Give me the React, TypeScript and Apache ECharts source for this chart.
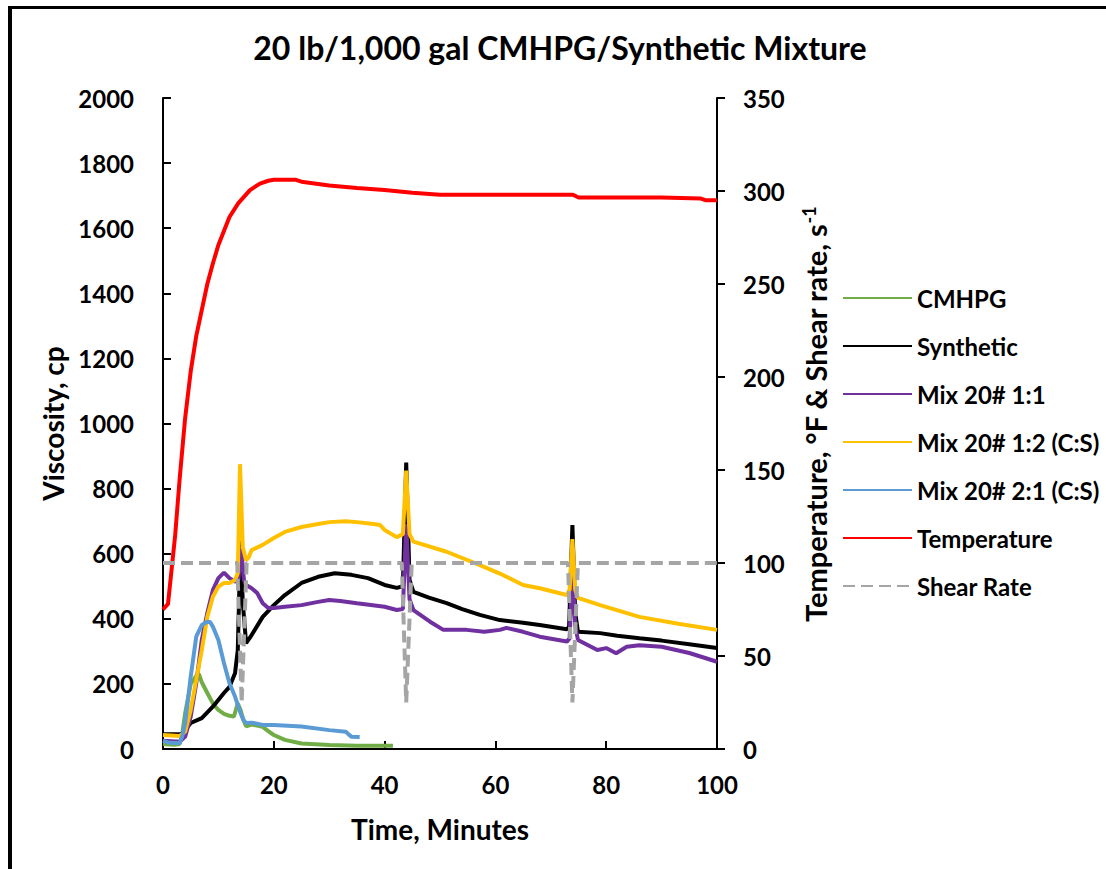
import React, { useEffect, useRef } from "react";
import * as echarts from "echarts";

// ---- data (time in minutes, value) ----
const cmhpg: number[][] = [
  [0, 15], [2, 13], [3, 15], [3.5, 50], [4, 110], [5, 200], [6, 225], [6.5, 230], [7, 205], [8, 172],
  [9, 140], [10, 120], [11, 108], [12, 102], [12.8, 100], [13.5, 140], [14, 120], [14.5, 90], [15, 70],
  [16, 75], [17, 72], [18, 68], [19, 55], [20, 43], [22, 28], [25, 17], [30, 12], [35, 10], [41.5, 10],
];
const synthetic: number[][] = [
  [0, 45], [3.4, 45], [5, 80], [7, 95], [9, 130], [11, 172], [12, 191], [13, 233], [13.5, 304], [14, 640],
  [14.4, 450], [15, 325], [16, 350], [18, 406], [20, 442], [22, 473], [25, 510], [28, 529], [31, 540],
  [34, 535], [37, 525], [40, 504], [42.2, 495], [43.3, 500], [43.9, 880], [44.5, 520], [45.2, 483],
  [48, 465], [51.2, 448], [54, 430], [57.2, 412], [60.8, 396], [65, 388], [68, 381], [72.9, 368],
  [73.3, 375], [73.9, 688], [74.4, 420], [74.9, 360], [78.9, 356], [82, 348], [86, 340], [90, 333],
  [95, 322], [100, 310],
];
const mix11: number[][] = [
  [0, 25], [3, 22], [4, 38], [5, 99], [6, 202], [7, 335], [8, 418], [9, 488], [10, 525], [11, 542],
  [12, 525], [13, 514], [13.6, 520], [14.1, 620], [14.6, 520], [15, 504], [16, 494], [17, 479], [18, 448],
  [19, 433], [20, 433], [22, 437], [25, 442], [28, 452], [30, 458], [32, 455], [35, 448], [40, 437],
  [42.2, 427], [43.3, 430], [43.9, 690], [44.5, 460], [45.2, 427], [48.2, 391], [50.6, 366], [54.8, 366],
  [58, 360], [60.8, 366], [62, 372], [65, 360], [68, 345], [72.9, 330], [73.4, 340], [73.9, 560],
  [74.4, 380], [74.9, 335], [78.4, 304], [80, 310], [81.8, 294], [83.7, 314], [86, 319], [90, 314],
  [95, 295], [100, 268],
];
const mix12: number[][] = [
  [0, 43], [3, 40], [4, 53], [5, 120], [6, 212], [7, 304], [8, 406], [9, 468], [10, 499], [11, 510],
  [12, 510], [13, 519], [13.5, 540], [13.9, 875], [14.4, 620], [15, 580], [15.5, 590], [16, 611],
  [18, 627], [20, 648], [22, 667], [25, 682], [28, 691], [30, 697], [33, 700], [35, 697], [38, 691],
  [39.2, 688], [40, 673], [42.2, 651], [43.3, 660], [43.9, 855], [44.5, 660], [45.2, 637], [51.2, 606],
  [57.2, 565], [60.8, 539], [65, 504], [68, 494], [72.9, 473], [73.4, 490], [73.9, 645], [74.4, 490],
  [74.9, 464], [78.9, 442], [86, 406], [93, 385], [100, 366],
];
const mix21: number[][] = [
  [0, 25], [1, 20], [3, 18], [3.5, 40], [4, 80], [4.5, 150], [5, 222], [6, 345], [7, 381], [8, 391],
  [8.5, 390], [9, 376], [10, 335], [11, 264], [12, 202], [13, 161], [14, 110], [14.5, 90], [15, 80],
  [16, 81], [18, 74], [20, 74], [25, 69], [30, 58], [33, 53], [33.5, 45], [34, 38], [35.5, 37],
];
const temperature: number[][] = [
  [0, 75], [0.9, 78], [1.5, 95], [2.2, 115], [3, 145], [4, 178], [5, 203], [6, 222], [7, 236],
  [8, 250], [9, 261], [10, 271], [12, 286], [13.6, 293.5], [15.7, 300.5], [17.5, 304], [19, 305.5],
  [20, 306], [24, 306], [25, 305], [30, 303], [35, 301.6], [40, 300.5], [45, 299], [50, 298], [74, 298],
  [75, 296.5], [90, 296.5], [97, 296], [98, 295], [100, 295],
];
const shearRate: number[][] = [
  [0, 100], [13.4, 100], [14.2, 25], [15.1, 100], [43.1, 100], [43.9, 25], [44.9, 100],
  [73.1, 100], [73.9, 25], [74.9, 100], [100, 100],
];

const FONT = "Lato";

export default function App() {
  const ref = useRef<HTMLDivElement>(null);
  useEffect(() => {
    if (!ref.current) return;
    const chart = echarts.init(ref.current, undefined, { renderer: "svg" });
    const line = (name: string, data: number[][], color: string, yAxisIndex = 0, dashed = false) => ({
      name,
      type: "line",
      data,
      yAxisIndex,
      symbol: "none",
      showSymbol: false,
      lineStyle: { color, width: 4, type: dashed ? [12, 6] : "solid" },
      itemStyle: { color },
      z: 2,
    });
    const axisText = { fontFamily: FONT, fontWeight: "bold", fontSize: 24, color: "#000" };
    const nameText = { fontFamily: FONT, fontWeight: "bold", fontSize: 28, color: "#000" };
    chart.setOption({
      animation: false,
      backgroundColor: "#fff",
      title: {
        text: "20 lb/1,000 gal CMHPG/Synthetic Mixture",
        left: 555,
        textAlign: "center",
        top: 26,
        textStyle: { fontFamily: FONT, fontWeight: "bold", fontSize: 32, color: "#000" },
      },
      graphic: [
        { type: "rect", shape: { x: 8, y: 6, width: 1098, height: 3 }, style: { fill: "#000" } },
        { type: "rect", shape: { x: 8, y: 6, width: 4, height: 863 }, style: { fill: "#000" } },
      ],
      grid: { left: 163, right: 389, top: 98, bottom: 120, containLabel: false },
      legend: {
        orient: "vertical",
        left: 842,
        top: 286,
        padding: 0,
        itemWidth: 69,
        itemHeight: 14,
        itemGap: 24,
        itemStyle: { opacity: 0 },
        textStyle: { fontFamily: FONT, fontWeight: "bold", fontSize: 24, color: "#000", lineHeight: 24 },
        data: ["CMHPG", "Synthetic", "Mix 20# 1:1", "Mix 20# 1:2 (C:S)", "Mix 20# 2:1 (C:S)", "Temperature", "Shear Rate"],
      },
      xAxis: {
        type: "value",
        min: 0,
        max: 100,
        interval: 20,
        name: "Time, Minutes",
        nameLocation: "middle",
        nameGap: 66,
        nameTextStyle: nameText,
        axisLine: { show: true, onZero: false, lineStyle: { color: "#000", width: 2 } },
        axisTick: { show: true, inside: true, length: 8, lineStyle: { color: "#000", width: 2 } },
        axisLabel: { ...axisText, margin: 23 },
        splitLine: { show: false },
      },
      yAxis: [
        {
          type: "value",
          min: 0,
          max: 2000,
          interval: 200,
          position: "left",
          name: "Viscosity, cp",
          nameLocation: "middle",
          nameGap: 86,
          nameRotate: 90,
          nameTextStyle: nameText,
          axisLine: { show: true, onZero: false, lineStyle: { color: "#000", width: 2 } },
          axisTick: { show: true, inside: true, length: 8, lineStyle: { color: "#000", width: 2 } },
          axisLabel: { ...axisText, margin: 29, formatter: (v: number) => String(v) },
          splitLine: { show: false },
        },
        {
          type: "value",
          min: 0,
          max: 350,
          interval: 50,
          position: "right",
          name: "Temperature, °F & Shear rate, s{sup|-1}",
          nameLocation: "middle",
          nameGap: 83,
          nameRotate: 90,
          nameTextStyle: {
            ...nameText,
            fontSize: 29,
            padding: [0, 0, 0, 18],
            rich: {
              sup: { fontFamily: FONT, fontWeight: "bold", fontSize: 18, color: "#000", verticalAlign: "top", padding: [0, 0, 12, 0] },
            },
          },
          axisLine: { show: true, onZero: false, lineStyle: { color: "#000", width: 2 } },
          axisTick: { show: true, inside: false, length: 8, lineStyle: { color: "#000", width: 2 } },
          axisLabel: { ...axisText, margin: 26, formatter: (v: number) => String(v) },
          splitLine: { show: false },
        },
      ],
      series: [
        line("CMHPG", cmhpg, "#70AD47"),
        line("Synthetic", synthetic, "#000000"),
        line("Mix 20# 1:1", mix11, "#7030A0"),
        line("Mix 20# 1:2 (C:S)", mix12, "#FFC000"),
        line("Mix 20# 2:1 (C:S)", mix21, "#5B9BD5"),
        line("Temperature", temperature, "#FF0000", 1),
        line("Shear Rate", shearRate, "#A5A5A5", 1, true),
      ],
    });
    return () => chart.dispose();
  }, []);
  return (
    <div
      ref={ref}
      style={{ position: "absolute", left: 0, top: 0, width: 1106, height: 869, background: "#fff" }}
    />
  );
}
